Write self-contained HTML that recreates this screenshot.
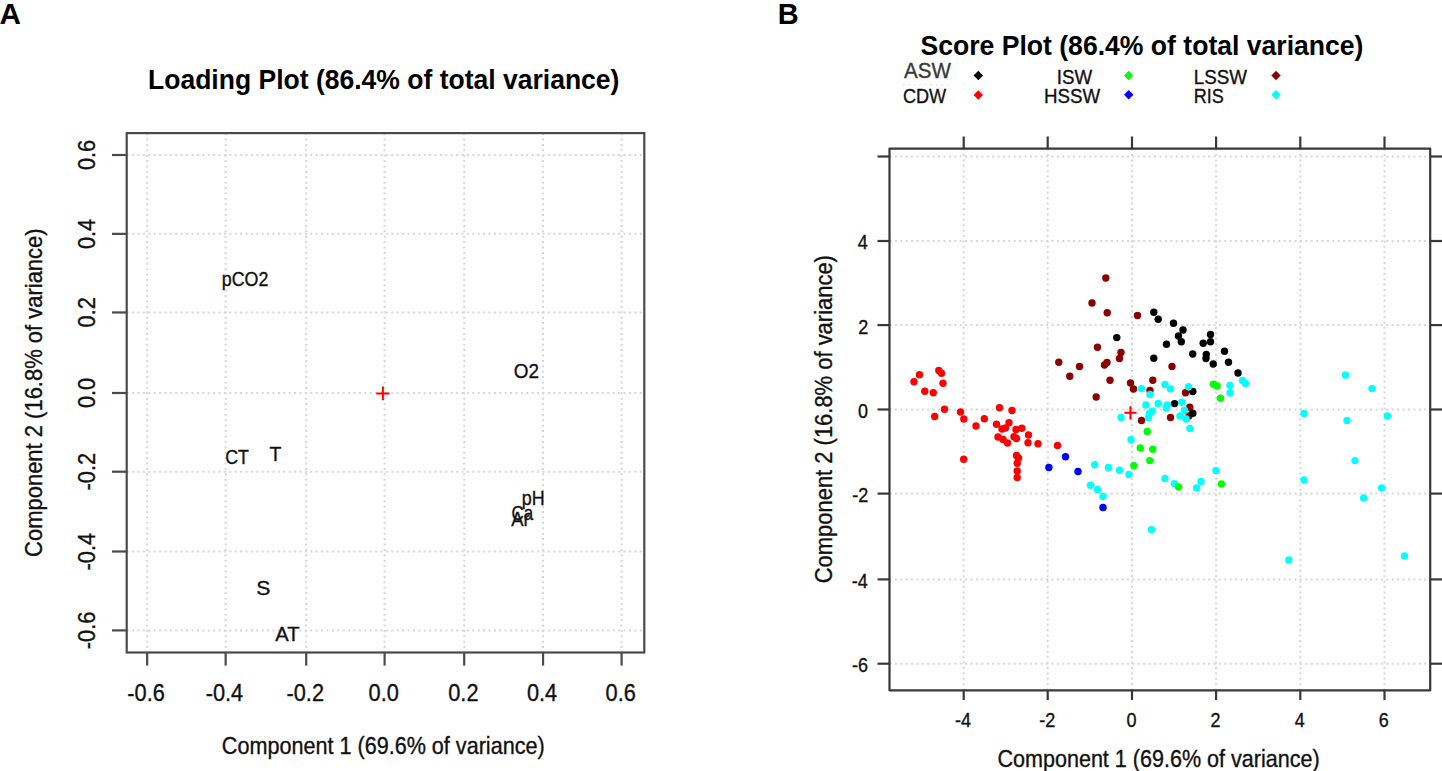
<!DOCTYPE html>
<html><head><meta charset="utf-8"><title>PCA loading and score plots</title>
<style>
html,body{margin:0;padding:0;background:#fff;}
body{width:1442px;height:771px;overflow:hidden;}
svg{display:block;font-family:"Liberation Sans", sans-serif;}
</style></head>
<body>
<svg width="1442" height="771" viewBox="0 0 1442 771">
<rect width="1442" height="771" fill="#fff"/>
<line x1="147.16" y1="133.1" x2="147.16" y2="652.5" stroke="#d6d6d6" stroke-width="2" stroke-dasharray="2 3.4"/>
<line x1="225.64" y1="133.1" x2="225.64" y2="652.5" stroke="#d6d6d6" stroke-width="2" stroke-dasharray="2 3.4"/>
<line x1="306.20" y1="133.1" x2="306.20" y2="652.5" stroke="#d6d6d6" stroke-width="2" stroke-dasharray="2 3.4"/>
<line x1="384.60" y1="133.1" x2="384.60" y2="652.5" stroke="#d6d6d6" stroke-width="2" stroke-dasharray="2 3.4"/>
<line x1="464.20" y1="133.1" x2="464.20" y2="652.5" stroke="#d6d6d6" stroke-width="2" stroke-dasharray="2 3.4"/>
<line x1="543.07" y1="133.1" x2="543.07" y2="652.5" stroke="#d6d6d6" stroke-width="2" stroke-dasharray="2 3.4"/>
<line x1="621.60" y1="133.1" x2="621.60" y2="652.5" stroke="#d6d6d6" stroke-width="2" stroke-dasharray="2 3.4"/>
<line x1="126.7" y1="155.00" x2="644.3" y2="155.00" stroke="#d6d6d6" stroke-width="2" stroke-dasharray="2 3.4"/>
<line x1="126.7" y1="233.86" x2="644.3" y2="233.86" stroke="#d6d6d6" stroke-width="2" stroke-dasharray="2 3.4"/>
<line x1="126.7" y1="312.45" x2="644.3" y2="312.45" stroke="#d6d6d6" stroke-width="2" stroke-dasharray="2 3.4"/>
<line x1="126.7" y1="393.00" x2="644.3" y2="393.00" stroke="#d6d6d6" stroke-width="2" stroke-dasharray="2 3.4"/>
<line x1="126.7" y1="471.70" x2="644.3" y2="471.70" stroke="#d6d6d6" stroke-width="2" stroke-dasharray="2 3.4"/>
<line x1="126.7" y1="551.50" x2="644.3" y2="551.50" stroke="#d6d6d6" stroke-width="2" stroke-dasharray="2 3.4"/>
<line x1="126.7" y1="630.40" x2="644.3" y2="630.40" stroke="#d6d6d6" stroke-width="2" stroke-dasharray="2 3.4"/>
<rect x="126.7" y="133.1" width="517.60" height="519.40" fill="none" stroke="#4a4a4a" stroke-width="2.2"/>
<line x1="147.16" y1="652.5" x2="147.16" y2="665.6" stroke="#4a4a4a" stroke-width="2.2"/>
<line x1="225.64" y1="652.5" x2="225.64" y2="665.6" stroke="#4a4a4a" stroke-width="2.2"/>
<line x1="306.20" y1="652.5" x2="306.20" y2="665.6" stroke="#4a4a4a" stroke-width="2.2"/>
<line x1="384.60" y1="652.5" x2="384.60" y2="665.6" stroke="#4a4a4a" stroke-width="2.2"/>
<line x1="464.20" y1="652.5" x2="464.20" y2="665.6" stroke="#4a4a4a" stroke-width="2.2"/>
<line x1="543.07" y1="652.5" x2="543.07" y2="665.6" stroke="#4a4a4a" stroke-width="2.2"/>
<line x1="621.60" y1="652.5" x2="621.60" y2="665.6" stroke="#4a4a4a" stroke-width="2.2"/>
<line x1="112" y1="155.00" x2="126.7" y2="155.00" stroke="#4a4a4a" stroke-width="2.2"/>
<line x1="112" y1="233.86" x2="126.7" y2="233.86" stroke="#4a4a4a" stroke-width="2.2"/>
<line x1="112" y1="312.45" x2="126.7" y2="312.45" stroke="#4a4a4a" stroke-width="2.2"/>
<line x1="112" y1="393.00" x2="126.7" y2="393.00" stroke="#4a4a4a" stroke-width="2.2"/>
<line x1="112" y1="471.70" x2="126.7" y2="471.70" stroke="#4a4a4a" stroke-width="2.2"/>
<line x1="112" y1="551.50" x2="126.7" y2="551.50" stroke="#4a4a4a" stroke-width="2.2"/>
<line x1="112" y1="630.40" x2="126.7" y2="630.40" stroke="#4a4a4a" stroke-width="2.2"/>
<path d="M376.29999999999995 393.4H389.5M382.9 386.5V400.29999999999995" stroke="#ff0000" stroke-width="2.0"/>
<line x1="963.70" y1="148.6" x2="963.70" y2="690.3" stroke="#d6d6d6" stroke-width="2" stroke-dasharray="2 3.4"/>
<line x1="1047.70" y1="148.6" x2="1047.70" y2="690.3" stroke="#d6d6d6" stroke-width="2" stroke-dasharray="2 3.4"/>
<line x1="1132.00" y1="148.6" x2="1132.00" y2="690.3" stroke="#d6d6d6" stroke-width="2" stroke-dasharray="2 3.4"/>
<line x1="1216.10" y1="148.6" x2="1216.10" y2="690.3" stroke="#d6d6d6" stroke-width="2" stroke-dasharray="2 3.4"/>
<line x1="1300.30" y1="148.6" x2="1300.30" y2="690.3" stroke="#d6d6d6" stroke-width="2" stroke-dasharray="2 3.4"/>
<line x1="1384.50" y1="148.6" x2="1384.50" y2="690.3" stroke="#d6d6d6" stroke-width="2" stroke-dasharray="2 3.4"/>
<line x1="889.5" y1="156.50" x2="1430.2" y2="156.50" stroke="#d6d6d6" stroke-width="2" stroke-dasharray="2 3.4"/>
<line x1="889.5" y1="241.00" x2="1430.2" y2="241.00" stroke="#d6d6d6" stroke-width="2" stroke-dasharray="2 3.4"/>
<line x1="889.5" y1="325.10" x2="1430.2" y2="325.10" stroke="#d6d6d6" stroke-width="2" stroke-dasharray="2 3.4"/>
<line x1="889.5" y1="409.50" x2="1430.2" y2="409.50" stroke="#d6d6d6" stroke-width="2" stroke-dasharray="2 3.4"/>
<line x1="889.5" y1="493.60" x2="1430.2" y2="493.60" stroke="#d6d6d6" stroke-width="2" stroke-dasharray="2 3.4"/>
<line x1="889.5" y1="579.40" x2="1430.2" y2="579.40" stroke="#d6d6d6" stroke-width="2" stroke-dasharray="2 3.4"/>
<line x1="889.5" y1="663.70" x2="1430.2" y2="663.70" stroke="#d6d6d6" stroke-width="2" stroke-dasharray="2 3.4"/>
<circle cx="1105.8" cy="278" r="3.7" fill="#8b0000"/>
<circle cx="1092" cy="303" r="3.7" fill="#8b0000"/>
<circle cx="1107.2" cy="312.8" r="3.7" fill="#8b0000"/>
<circle cx="1137.5" cy="315.5" r="3.7" fill="#8b0000"/>
<circle cx="1097.5" cy="347.2" r="3.7" fill="#8b0000"/>
<circle cx="1121" cy="352.5" r="3.7" fill="#8b0000"/>
<circle cx="1119.5" cy="358.5" r="3.7" fill="#8b0000"/>
<circle cx="1058.8" cy="362.2" r="3.7" fill="#8b0000"/>
<circle cx="1079.5" cy="366.5" r="3.7" fill="#8b0000"/>
<circle cx="1107" cy="362.5" r="3.7" fill="#8b0000"/>
<circle cx="1104.5" cy="365" r="3.7" fill="#8b0000"/>
<circle cx="1069.8" cy="376.2" r="3.7" fill="#8b0000"/>
<circle cx="1110" cy="380.3" r="3.7" fill="#8b0000"/>
<circle cx="1130.5" cy="383" r="3.7" fill="#8b0000"/>
<circle cx="1133.5" cy="389" r="3.7" fill="#8b0000"/>
<circle cx="1096.2" cy="397" r="3.7" fill="#8b0000"/>
<circle cx="1152.8" cy="380.3" r="3.7" fill="#8b0000"/>
<circle cx="1172" cy="366.5" r="3.7" fill="#8b0000"/>
<circle cx="1150" cy="390.5" r="3.7" fill="#8b0000"/>
<circle cx="1185.5" cy="392.8" r="3.7" fill="#8b0000"/>
<circle cx="1189.8" cy="407.2" r="3.7" fill="#8b0000"/>
<circle cx="1170.5" cy="417.5" r="3.7" fill="#8b0000"/>
<circle cx="1141.5" cy="420.5" r="3.7" fill="#8b0000"/>
<circle cx="1189" cy="416" r="3.7" fill="#8b0000"/>
<circle cx="1153.8" cy="312.2" r="3.7" fill="#000000"/>
<circle cx="1158.2" cy="319.2" r="3.7" fill="#000000"/>
<circle cx="1173.5" cy="323.2" r="3.7" fill="#000000"/>
<circle cx="1183" cy="330" r="3.7" fill="#000000"/>
<circle cx="1178.5" cy="336" r="3.7" fill="#000000"/>
<circle cx="1181.3" cy="341.8" r="3.7" fill="#000000"/>
<circle cx="1166.5" cy="344.3" r="3.7" fill="#000000"/>
<circle cx="1210.5" cy="334.5" r="3.7" fill="#000000"/>
<circle cx="1210.5" cy="341.8" r="3.7" fill="#000000"/>
<circle cx="1203.2" cy="343.2" r="3.7" fill="#000000"/>
<circle cx="1192.7" cy="354" r="3.7" fill="#000000"/>
<circle cx="1206.3" cy="354.5" r="3.7" fill="#000000"/>
<circle cx="1206" cy="358.5" r="3.7" fill="#000000"/>
<circle cx="1153.8" cy="358.2" r="3.7" fill="#000000"/>
<circle cx="1224.5" cy="351.2" r="3.7" fill="#000000"/>
<circle cx="1213.2" cy="364" r="3.7" fill="#000000"/>
<circle cx="1228.5" cy="362.2" r="3.7" fill="#000000"/>
<circle cx="1238" cy="373" r="3.7" fill="#000000"/>
<circle cx="1116.8" cy="337.6" r="3.7" fill="#000000"/>
<circle cx="1192.8" cy="391.5" r="3.7" fill="#000000"/>
<circle cx="1174.6" cy="403.6" r="3.7" fill="#000000"/>
<circle cx="1192.8" cy="413.3" r="3.7" fill="#000000"/>
<circle cx="919.5" cy="374.8" r="3.7" fill="#ff0000"/>
<circle cx="914" cy="381.8" r="3.7" fill="#ff0000"/>
<circle cx="938.8" cy="370.5" r="3.7" fill="#ff0000"/>
<circle cx="941.5" cy="373.3" r="3.7" fill="#ff0000"/>
<circle cx="943" cy="383.2" r="3.7" fill="#ff0000"/>
<circle cx="924.8" cy="391.3" r="3.7" fill="#ff0000"/>
<circle cx="933.3" cy="392.8" r="3.7" fill="#ff0000"/>
<circle cx="944.5" cy="409.2" r="3.7" fill="#ff0000"/>
<circle cx="934.7" cy="416.5" r="3.7" fill="#ff0000"/>
<circle cx="960.5" cy="412" r="3.7" fill="#ff0000"/>
<circle cx="963.8" cy="419" r="3.7" fill="#ff0000"/>
<circle cx="976" cy="426" r="3.7" fill="#ff0000"/>
<circle cx="984.3" cy="418.8" r="3.7" fill="#ff0000"/>
<circle cx="999.5" cy="407.8" r="3.7" fill="#ff0000"/>
<circle cx="1012" cy="410.5" r="3.7" fill="#ff0000"/>
<circle cx="996.5" cy="424.3" r="3.7" fill="#ff0000"/>
<circle cx="1009" cy="422.8" r="3.7" fill="#ff0000"/>
<circle cx="1002" cy="429" r="3.7" fill="#ff0000"/>
<circle cx="1005.5" cy="428" r="3.7" fill="#ff0000"/>
<circle cx="1016" cy="429.5" r="3.7" fill="#ff0000"/>
<circle cx="1021.8" cy="428.2" r="3.7" fill="#ff0000"/>
<circle cx="1028.5" cy="435" r="3.7" fill="#ff0000"/>
<circle cx="998" cy="437" r="3.7" fill="#ff0000"/>
<circle cx="1003" cy="439.5" r="3.7" fill="#ff0000"/>
<circle cx="1007.5" cy="443" r="3.7" fill="#ff0000"/>
<circle cx="1014" cy="436.8" r="3.7" fill="#ff0000"/>
<circle cx="1016.5" cy="438.5" r="3.7" fill="#ff0000"/>
<circle cx="1028" cy="442.8" r="3.7" fill="#ff0000"/>
<circle cx="1038" cy="443.8" r="3.7" fill="#ff0000"/>
<circle cx="1057.5" cy="445.5" r="3.7" fill="#ff0000"/>
<circle cx="963.7" cy="459.2" r="3.7" fill="#ff0000"/>
<circle cx="1016.5" cy="455.5" r="3.7" fill="#ff0000"/>
<circle cx="1018.5" cy="458" r="3.7" fill="#ff0000"/>
<circle cx="1017.2" cy="463.2" r="3.7" fill="#ff0000"/>
<circle cx="1017.2" cy="471" r="3.7" fill="#ff0000"/>
<circle cx="1017.2" cy="477.5" r="3.7" fill="#ff0000"/>
<circle cx="1065.5" cy="456.7" r="3.7" fill="#0000ff"/>
<circle cx="1048.9" cy="467.5" r="3.7" fill="#0000ff"/>
<circle cx="1078" cy="471.5" r="3.7" fill="#0000ff"/>
<circle cx="1103" cy="507.5" r="3.7" fill="#0000ff"/>
<circle cx="1141.5" cy="388.6" r="3.7" fill="#00ffff"/>
<circle cx="1165" cy="384.4" r="3.7" fill="#00ffff"/>
<circle cx="1170.5" cy="388.9" r="3.7" fill="#00ffff"/>
<circle cx="1150" cy="394.5" r="3.7" fill="#00ffff"/>
<circle cx="1188.5" cy="386.8" r="3.7" fill="#00ffff"/>
<circle cx="1145.9" cy="405" r="3.7" fill="#00ffff"/>
<circle cx="1158.2" cy="403.5" r="3.7" fill="#00ffff"/>
<circle cx="1167.3" cy="405" r="3.7" fill="#00ffff"/>
<circle cx="1166.2" cy="408" r="3.7" fill="#00ffff"/>
<circle cx="1181.8" cy="402.2" r="3.7" fill="#00ffff"/>
<circle cx="1152.3" cy="411.3" r="3.7" fill="#00ffff"/>
<circle cx="1149.5" cy="413.5" r="3.7" fill="#00ffff"/>
<circle cx="1148.5" cy="417.8" r="3.7" fill="#00ffff"/>
<circle cx="1184.5" cy="410.2" r="3.7" fill="#00ffff"/>
<circle cx="1180" cy="416" r="3.7" fill="#00ffff"/>
<circle cx="1186" cy="419" r="3.7" fill="#00ffff"/>
<circle cx="1190" cy="428.5" r="3.7" fill="#00ffff"/>
<circle cx="1131" cy="439.8" r="3.7" fill="#00ffff"/>
<circle cx="1121" cy="417.5" r="3.7" fill="#00ffff"/>
<circle cx="1230" cy="385.5" r="3.7" fill="#00ffff"/>
<circle cx="1230" cy="393" r="3.7" fill="#00ffff"/>
<circle cx="1242.5" cy="380.5" r="3.7" fill="#00ffff"/>
<circle cx="1245.5" cy="383.5" r="3.7" fill="#00ffff"/>
<circle cx="1094.8" cy="464.7" r="3.7" fill="#00ffff"/>
<circle cx="1108.5" cy="467.5" r="3.7" fill="#00ffff"/>
<circle cx="1119.5" cy="470.3" r="3.7" fill="#00ffff"/>
<circle cx="1129" cy="474.5" r="3.7" fill="#00ffff"/>
<circle cx="1090.5" cy="485.2" r="3.7" fill="#00ffff"/>
<circle cx="1097.5" cy="489.5" r="3.7" fill="#00ffff"/>
<circle cx="1103" cy="496.5" r="3.7" fill="#00ffff"/>
<circle cx="1151.4" cy="529.6" r="3.7" fill="#00ffff"/>
<circle cx="1165" cy="478.4" r="3.7" fill="#00ffff"/>
<circle cx="1174.4" cy="483.6" r="3.7" fill="#00ffff"/>
<circle cx="1196.6" cy="488" r="3.7" fill="#00ffff"/>
<circle cx="1201" cy="481.4" r="3.7" fill="#00ffff"/>
<circle cx="1216" cy="470.4" r="3.7" fill="#00ffff"/>
<circle cx="1304" cy="413.4" r="3.7" fill="#00ffff"/>
<circle cx="1347" cy="420.4" r="3.7" fill="#00ffff"/>
<circle cx="1387.4" cy="416" r="3.7" fill="#00ffff"/>
<circle cx="1345.4" cy="375" r="3.7" fill="#00ffff"/>
<circle cx="1372" cy="388.6" r="3.7" fill="#00ffff"/>
<circle cx="1355" cy="460.6" r="3.7" fill="#00ffff"/>
<circle cx="1304" cy="480" r="3.7" fill="#00ffff"/>
<circle cx="1381.6" cy="488" r="3.7" fill="#00ffff"/>
<circle cx="1363.6" cy="498" r="3.7" fill="#00ffff"/>
<circle cx="1288.8" cy="560" r="3.7" fill="#00ffff"/>
<circle cx="1404.6" cy="556" r="3.7" fill="#00ffff"/>
<circle cx="1213.5" cy="384.2" r="3.7" fill="#00ff00"/>
<circle cx="1217" cy="386" r="3.7" fill="#00ff00"/>
<circle cx="1220.5" cy="398.2" r="3.7" fill="#00ff00"/>
<circle cx="1147.2" cy="431.5" r="3.7" fill="#00ff00"/>
<circle cx="1140.3" cy="448" r="3.7" fill="#00ff00"/>
<circle cx="1152.8" cy="449.2" r="3.7" fill="#00ff00"/>
<circle cx="1149.8" cy="460.6" r="3.7" fill="#00ff00"/>
<circle cx="1133.8" cy="465.8" r="3.7" fill="#00ff00"/>
<circle cx="1178.6" cy="487" r="3.7" fill="#00ff00"/>
<circle cx="1221.4" cy="484" r="3.7" fill="#00ff00"/>
<path d="M1124.4 412.8H1136.6M1130.5 406.2V419.40000000000003" stroke="#ff0000" stroke-width="2.1"/>
<rect x="889.5" y="148.6" width="540.70" height="541.70" fill="none" stroke="#383838" stroke-width="2.2" stroke-linejoin="round"/>
<line x1="963.70" y1="690.3" x2="963.70" y2="700" stroke="#383838" stroke-width="2.2"/>
<line x1="963.70" y1="136.5" x2="963.70" y2="148.6" stroke="#383838" stroke-width="2.2"/>
<line x1="1047.70" y1="690.3" x2="1047.70" y2="700" stroke="#383838" stroke-width="2.2"/>
<line x1="1047.70" y1="136.5" x2="1047.70" y2="148.6" stroke="#383838" stroke-width="2.2"/>
<line x1="1132.00" y1="690.3" x2="1132.00" y2="700" stroke="#383838" stroke-width="2.2"/>
<line x1="1132.00" y1="136.5" x2="1132.00" y2="148.6" stroke="#383838" stroke-width="2.2"/>
<line x1="1216.10" y1="690.3" x2="1216.10" y2="700" stroke="#383838" stroke-width="2.2"/>
<line x1="1216.10" y1="136.5" x2="1216.10" y2="148.6" stroke="#383838" stroke-width="2.2"/>
<line x1="1300.30" y1="690.3" x2="1300.30" y2="700" stroke="#383838" stroke-width="2.2"/>
<line x1="1300.30" y1="136.5" x2="1300.30" y2="148.6" stroke="#383838" stroke-width="2.2"/>
<line x1="1384.50" y1="690.3" x2="1384.50" y2="700" stroke="#383838" stroke-width="2.2"/>
<line x1="1384.50" y1="136.5" x2="1384.50" y2="148.6" stroke="#383838" stroke-width="2.2"/>
<line x1="877.5" y1="156.50" x2="889.5" y2="156.50" stroke="#383838" stroke-width="2.2"/>
<line x1="1430.2" y1="156.50" x2="1442" y2="156.50" stroke="#383838" stroke-width="2.2"/>
<line x1="877.5" y1="241.00" x2="889.5" y2="241.00" stroke="#383838" stroke-width="2.2"/>
<line x1="1430.2" y1="241.00" x2="1442" y2="241.00" stroke="#383838" stroke-width="2.2"/>
<line x1="877.5" y1="325.10" x2="889.5" y2="325.10" stroke="#383838" stroke-width="2.2"/>
<line x1="1430.2" y1="325.10" x2="1442" y2="325.10" stroke="#383838" stroke-width="2.2"/>
<line x1="877.5" y1="409.50" x2="889.5" y2="409.50" stroke="#383838" stroke-width="2.2"/>
<line x1="1430.2" y1="409.50" x2="1442" y2="409.50" stroke="#383838" stroke-width="2.2"/>
<line x1="877.5" y1="493.60" x2="889.5" y2="493.60" stroke="#383838" stroke-width="2.2"/>
<line x1="1430.2" y1="493.60" x2="1442" y2="493.60" stroke="#383838" stroke-width="2.2"/>
<line x1="877.5" y1="579.40" x2="889.5" y2="579.40" stroke="#383838" stroke-width="2.2"/>
<line x1="1430.2" y1="579.40" x2="1442" y2="579.40" stroke="#383838" stroke-width="2.2"/>
<line x1="877.5" y1="663.70" x2="889.5" y2="663.70" stroke="#383838" stroke-width="2.2"/>
<line x1="1430.2" y1="663.70" x2="1442" y2="663.70" stroke="#383838" stroke-width="2.2"/>
<line x1="903" y1="84.8" x2="951" y2="84.8" stroke="#e6e6e6" stroke-width="1.5" stroke-dasharray="1.5 4"/>
<path d="M978.3 70.8L983.0 75.5L978.3 80.2L973.5999999999999 75.5Z" fill="#000000"/>
<path d="M978.3 90.3L983.0 95.0L978.3 99.7L973.5999999999999 95.0Z" fill="#ff0000"/>
<path d="M1128.7 70.8L1133.4 75.5L1128.7 80.2L1124.0 75.5Z" fill="#00ff00"/>
<path d="M1128.7 90.1L1133.4 94.8L1128.7 99.5L1124.0 94.8Z" fill="#0000ff"/>
<path d="M1276.0 70.8L1280.7 75.5L1276.0 80.2L1271.3 75.5Z" fill="#8b0000"/>
<path d="M1276.0 90.1L1280.7 94.8L1276.0 99.5L1271.3 94.8Z" fill="#00ffff"/>
<text transform="translate(-0.59,23.90) scale(0.9902,1)" font-size="30" font-weight="bold" fill="#000">A</text>
<text transform="translate(777.76,23.90) scale(0.9677,1)" font-size="30" font-weight="bold" fill="#000">B</text>
<text transform="translate(148.01,89.00) scale(0.9824,1)" font-size="27" font-weight="bold" fill="#000">Loading Plot (86.4% of total variance)</text>
<text transform="translate(920.47,55.00) scale(0.9845,1)" font-size="27" font-weight="bold" fill="#000">Score Plot (86.4% of total variance)</text>
<text transform="translate(127.37,700.50) scale(0.9300,1)" font-size="23.4" fill="#111" stroke="#111" stroke-width="0.35">-0.6</text>
<text transform="translate(205.74,700.50) scale(0.9300,1)" font-size="23.4" fill="#111" stroke="#111" stroke-width="0.35">-0.4</text>
<text transform="translate(286.52,700.50) scale(0.9300,1)" font-size="23.4" fill="#111" stroke="#111" stroke-width="0.35">-0.2</text>
<text transform="translate(368.54,700.50) scale(0.9300,1)" font-size="23.4" fill="#111" stroke="#111" stroke-width="0.35">0.0</text>
<text transform="translate(448.25,700.50) scale(0.9300,1)" font-size="23.4" fill="#111" stroke="#111" stroke-width="0.35">0.2</text>
<text transform="translate(526.90,700.50) scale(0.9300,1)" font-size="23.4" fill="#111" stroke="#111" stroke-width="0.35">0.4</text>
<text transform="translate(605.54,700.50) scale(0.9300,1)" font-size="23.4" fill="#111" stroke="#111" stroke-width="0.35">0.6</text>
<text transform="translate(94.60,170.06) rotate(-90) scale(0.9300,1)" font-size="23.4" fill="#111" stroke="#111" stroke-width="0.35">0.6</text>
<text transform="translate(94.60,249.03) rotate(-90) scale(0.9300,1)" font-size="23.4" fill="#111" stroke="#111" stroke-width="0.35">0.4</text>
<text transform="translate(94.60,327.40) rotate(-90) scale(0.9300,1)" font-size="23.4" fill="#111" stroke="#111" stroke-width="0.35">0.2</text>
<text transform="translate(94.60,408.06) rotate(-90) scale(0.9300,1)" font-size="23.4" fill="#111" stroke="#111" stroke-width="0.35">0.0</text>
<text transform="translate(94.60,490.38) rotate(-90) scale(0.9300,1)" font-size="23.4" fill="#111" stroke="#111" stroke-width="0.35">-0.2</text>
<text transform="translate(94.60,570.40) rotate(-90) scale(0.9300,1)" font-size="23.4" fill="#111" stroke="#111" stroke-width="0.35">-0.4</text>
<text transform="translate(94.60,649.19) rotate(-90) scale(0.9300,1)" font-size="23.4" fill="#111" stroke="#111" stroke-width="0.35">-0.6</text>
<text transform="translate(221.82,754.40) scale(0.9155,1)" font-size="23.6" fill="#111" stroke="#111" stroke-width="0.35">Component 1 (69.6% of variance)</text>
<text transform="translate(42.20,556.90) rotate(-90) scale(0.9311,1)" font-size="23.6" fill="#111" stroke="#111" stroke-width="0.35">Component 2 (16.8% of variance)</text>
<text transform="translate(221.83,286.00) scale(0.8918,1)" font-size="20" fill="#111" stroke="#111" stroke-width="0.35">pCO2</text>
<text transform="translate(513.74,378.40) scale(0.9456,1)" font-size="20" fill="#111" stroke="#111" stroke-width="0.35">O2</text>
<text transform="translate(225.21,463.80) scale(0.8913,1)" font-size="20" fill="#111" stroke="#111" stroke-width="0.35">CT</text>
<text transform="translate(269.51,461.00) scale(0.9737,1)" font-size="20" fill="#111" stroke="#111" stroke-width="0.35">T</text>
<text transform="translate(521.83,504.60) scale(0.8943,1)" font-size="20" fill="#111" stroke="#111" stroke-width="0.35">pH</text>
<text transform="translate(511.30,525.90) scale(0.9220,1)" font-size="20" fill="#111" stroke="#111" stroke-width="0.35">Ar</text>
<text transform="translate(511.45,519.70) scale(0.8481,1)" font-size="20" fill="#111" stroke="#111" stroke-width="0.35">Ca</text>
<text transform="translate(256.25,594.50) scale(1.0593,1)" font-size="20" fill="#111" stroke="#111" stroke-width="0.35">S</text>
<text transform="translate(275.30,641.00) scale(1.0061,1)" font-size="20" fill="#111" stroke="#111" stroke-width="0.35">AT</text>
<text transform="translate(955.07,727.00) scale(0.9000,1)" font-size="20.0" fill="#111" stroke="#111" stroke-width="0.35">-4</text>
<text transform="translate(1039.25,727.00) scale(0.9000,1)" font-size="20.0" fill="#111" stroke="#111" stroke-width="0.35">-2</text>
<text transform="translate(1126.55,727.00) scale(0.9000,1)" font-size="20.0" fill="#111" stroke="#111" stroke-width="0.35">0</text>
<text transform="translate(1210.56,727.00) scale(0.9000,1)" font-size="20.0" fill="#111" stroke="#111" stroke-width="0.35">2</text>
<text transform="translate(1294.85,727.00) scale(0.9000,1)" font-size="20.0" fill="#111" stroke="#111" stroke-width="0.35">4</text>
<text transform="translate(1378.87,727.00) scale(0.9000,1)" font-size="20.0" fill="#111" stroke="#111" stroke-width="0.35">6</text>
<text transform="translate(857.86,249.40) scale(0.9000,1)" font-size="20.0" fill="#111" stroke="#111" stroke-width="0.35">4</text>
<text transform="translate(858.22,333.50) scale(0.9000,1)" font-size="20.0" fill="#111" stroke="#111" stroke-width="0.35">2</text>
<text transform="translate(858.04,417.90) scale(0.9000,1)" font-size="20.0" fill="#111" stroke="#111" stroke-width="0.35">0</text>
<text transform="translate(852.23,502.00) scale(0.9000,1)" font-size="20.0" fill="#111" stroke="#111" stroke-width="0.35">-2</text>
<text transform="translate(851.87,587.80) scale(0.9000,1)" font-size="20.0" fill="#111" stroke="#111" stroke-width="0.35">-4</text>
<text transform="translate(852.05,672.10) scale(0.9000,1)" font-size="20.0" fill="#111" stroke="#111" stroke-width="0.35">-6</text>
<text transform="translate(997.42,766.60) scale(0.9138,1)" font-size="23.6" fill="#111" stroke="#111" stroke-width="0.35">Component 1 (69.6% of variance)</text>
<text transform="translate(831.90,583.30) rotate(-90) scale(0.9308,1)" font-size="23.6" fill="#111" stroke="#111" stroke-width="0.35">Component 2 (16.8% of variance)</text>
<text transform="translate(904.00,78.40) scale(0.9228,1)" font-size="22.3" fill="#3a3a3a" stroke="#3a3a3a" stroke-width="0.35">ASW</text>
<text transform="translate(902.89,103.40) scale(0.8843,1)" font-size="20.5" fill="#111" stroke="#111" stroke-width="0.35">CDW</text>
<text transform="translate(1056.81,83.90) scale(0.9135,1)" font-size="20.5" fill="#111" stroke="#111" stroke-width="0.35">ISW</text>
<text transform="translate(1044.00,103.40) scale(0.9135,1)" font-size="20.5" fill="#111" stroke="#111" stroke-width="0.35">HSSW</text>
<text transform="translate(1193.70,83.90) scale(0.9155,1)" font-size="20.5" fill="#111" stroke="#111" stroke-width="0.35">LSSW</text>
<text transform="translate(1193.75,103.40) scale(0.8812,1)" font-size="20.5" fill="#111" stroke="#111" stroke-width="0.35">RIS</text>
</svg>
</body></html>
